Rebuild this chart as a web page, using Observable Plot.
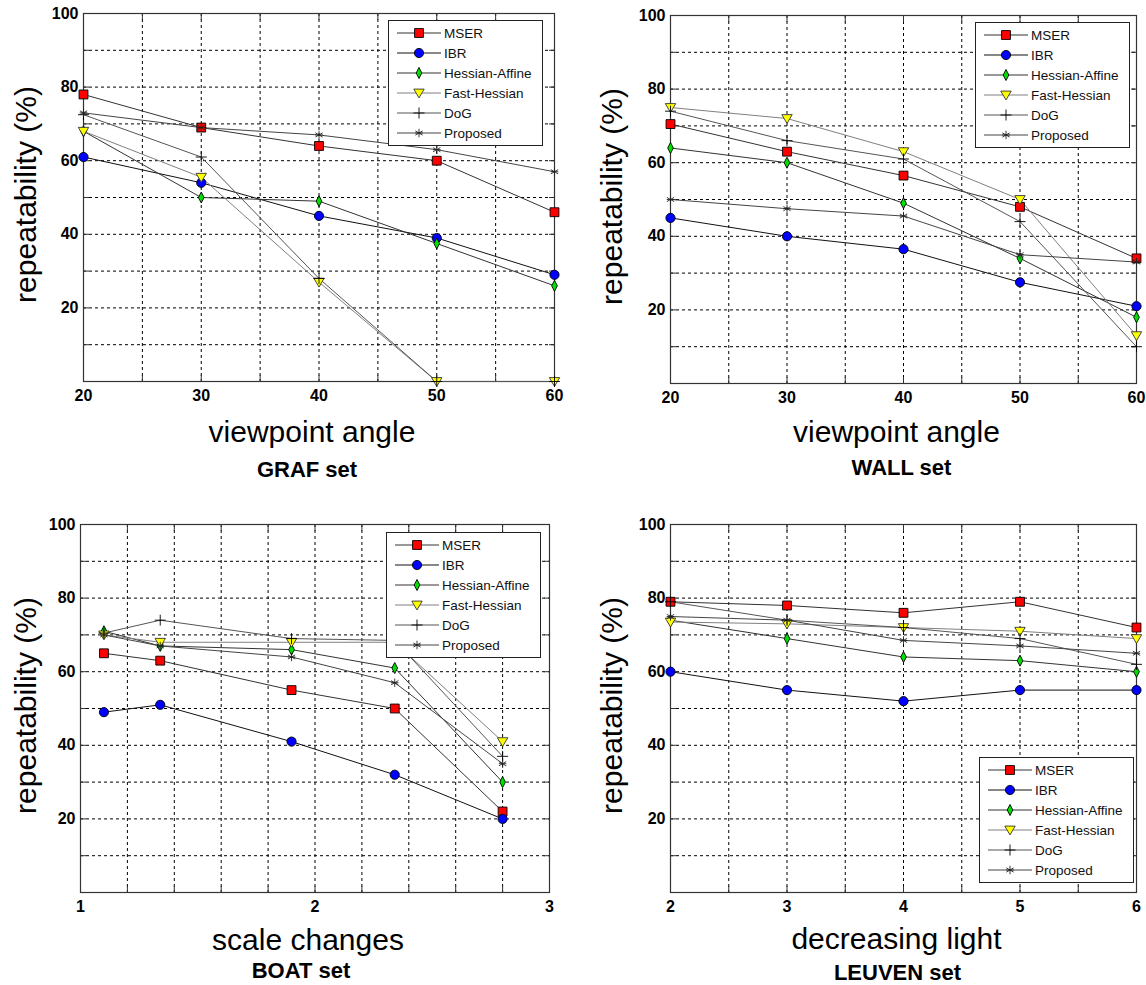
<!DOCTYPE html>
<html><head><meta charset="utf-8">
<script src="https://cdn.jsdelivr.net/npm/d3@7"></script>
<script src="https://cdn.jsdelivr.net/npm/@observablehq/plot@0.6"></script>
<style>
body{margin:0;background:#fff;}
#wrap{position:relative;width:1146px;height:985px;overflow:hidden;font-family:"Liberation Sans",Arial,sans-serif;background:#fff;}
#wrap > svg{position:absolute;}
</style></head><body><div id="wrap"></div>
<script>
// ---------- data ----------
const methods = ["MSER", "IBR", "Hessian-Affine", "Fast-Hessian", "DoG", "Proposed"];
const yLabel = "repeatability (%)";
const yTicks = [20, 40, 60, 80, 100];

const grafAngles = [20, 30, 40, 50, 60];
const grafValues = [
  [78, 69, 64, 60, 46],
  [61, 54, 45, 39, 29],
  [68, 50, 49, 37.5, 26],
  [68, 55.5, 27, 0, 0],
  [72.5, 61, 28, 0, 0],
  [73, 69, 67, 63, 57]
];
const wallAngles = [20, 30, 40, 50, 60];
const wallValues = [
  [70.5, 63, 56.5, 48, 34],
  [45, 40, 36.5, 27.5, 21],
  [64, 60, 49, 34, 18],
  [75, 72, 63, 50, 13],
  [74, 66, 61, 44, 10],
  [50, 47.5, 45.5, 35, 33]
];
const boatScales = [1.1, 1.34, 1.9, 2.34, 2.8];
const boatValues = [
  [65, 63, 55, 50, 22],
  [49, 51, 41, 32, 20],
  [71, 67, 66, 61, 30],
  [70, 68, 68, 68, 41],
  [70.5, 74, 69, 68.5, 37],
  [70, 67, 64, 57, 35]
];
const leuvenSteps = [2, 3, 4, 5, 6];
const leuvenValues = [
  [79, 78, 76, 79, 72],
  [60, 55, 52, 55, 55],
  [74, 69, 64, 63, 60],
  [73.5, 73, 72, 71, 69],
  [79, 74, 72, 69, 62],
  [75, 74, 68.5, 67, 65]
];
const grafTicks = [20, 30, 40, 50, 60];
const boatTicks = [1, 2, 3];
const leuvenTicks = [2, 3, 4, 5, 6];

// ---------- symbols & styles ----------
const rad = s => Math.sqrt(s / Math.PI);
const symDiamond = {draw(c, s) { const r = rad(s); c.moveTo(0, -r * 1.2); c.lineTo(r * 0.62, 0); c.lineTo(0, r * 1.2); c.lineTo(-r * 0.62, 0); c.closePath(); }};
const symTriDown = {draw(c, s) { const r = rad(s); c.moveTo(-r, -r * 0.75); c.lineTo(r, -r * 0.75); c.lineTo(0, r * 0.95); c.closePath(); }};
const symPlus = {draw(c, s) { const r = rad(s); c.moveTo(-r, 0); c.lineTo(r, 0); c.moveTo(0, -r); c.lineTo(0, r); }};
const symStar = {draw(c, s) { const r = rad(s); for (let k = 0; k < 3; k++) { const a = k * Math.PI / 3 + Math.PI / 2; c.moveTo(-r * Math.cos(a), -r * Math.sin(a)); c.lineTo(r * Math.cos(a), r * Math.sin(a)); } c.moveTo(-r * 0.9, 0); c.lineTo(r * 0.9, 0); }};
const styles = [
  {symbol: d3.symbolSquare, r: 5.0, fill: "#ff0000", stroke: "#000", line: "#333"},
  {symbol: d3.symbolCircle, r: 4.6, fill: "#0000ff", stroke: "#000", line: "#111"},
  {symbol: symDiamond, r: 4.6, fill: "#00e000", stroke: "#000", line: "#333"},
  {symbol: symTriDown, r: 5.2, fill: "#ffff00", stroke: "#333", line: "#808080"},
  {symbol: symPlus, r: 5.5, fill: "none", stroke: "#000", line: "#555"},
  {symbol: symStar, r: 4.2, fill: "none", stroke: "#222", line: "#444"}
];
const FONT = '"Liberation Sans", Arial, sans-serif';
const wrap = document.getElementById("wrap");

function panel(o) {
  const data = methods.map((m, i) => o.xs.map((x, j) => ({method: m, x, y: o.values[i][j]})));
  const dash = {stroke: "#000", strokeOpacity: 1, strokeWidth: 1, strokeDasharray: "3,3"};
  const minor = o.xGrid.concat(o.xDomain);
  const yMinor = d3.range(10, 100, 10);
  const marks = [
    Plot.gridY(yMinor, dash),
    Plot.gridX(o.xGrid, dash),
    Plot.axisX(minor, {anchor: "bottom", tickSize: -6, fill: "none", stroke: "#333"}),
    Plot.axisX(minor, {anchor: "top", tickSize: -6, fill: "none", stroke: "#333"}),
    Plot.axisY(yMinor, {anchor: "left", tickSize: -6, fill: "none", stroke: "#333"}),
    Plot.axisY(yMinor, {anchor: "right", tickSize: -6, fill: "none", stroke: "#333"}),
    Plot.frame({stroke: "#333", strokeWidth: 1.2}),
    Plot.axisX(o.xTicks, {anchor: "bottom", tickSize: 0, tickPadding: 8, fontSize: 16, fontWeight: "bold", label: null, tickFormat: d => String(d)}),
    Plot.axisY(yTicks, {anchor: "left", tickSize: 0, tickPadding: 5, fontSize: 16, fontWeight: "bold", label: null}),
    ...data.map((d, i) => Plot.line(d, {x: "x", y: "y", stroke: styles[i].line, strokeWidth: 1})),
    ...data.map((d, i) => Plot.dot(d, {x: "x", y: "y", symbol: styles[i].symbol, r: styles[i].r, fill: styles[i].fill, stroke: styles[i].stroke, strokeWidth: 0.9})),
    Plot.text([o.xlabel], {frameAnchor: "bottom", textAnchor: "middle", dy: o.xlDy, dx: -7, fontSize: 30, lineAnchor: "middle"}),
    Plot.text([o.setName], {frameAnchor: "bottom", textAnchor: "middle", dy: o.setDy, dx: o.setDx, fontSize: 22, fontWeight: "bold", lineAnchor: "middle"}),
    Plot.text([yLabel], {frameAnchor: "left", textAnchor: "middle", dx: o.ylDx, dy: -3, rotate: -90, fontSize: 30, lineAnchor: "middle"})
  ];
  const svg = Plot.plot({
    width: o.w, height: o.h,
    marginLeft: o.ml, marginRight: o.mr, marginTop: o.mt, marginBottom: o.mb,
    x: {domain: o.xDomain},
    y: {domain: [0, 100]},
    style: {fontFamily: FONT, background: "transparent", overflow: "visible", color: "#000"},
    marks
  });
  svg.style.left = o.left + "px";
  svg.style.top = o.top + "px";
  wrap.appendChild(svg);
  legend(o.legLeft, o.legTop);
}

function legend(l, t) {
  const W = 155, H = 126;
  const svg = d3.select(wrap).append("svg").attr("width", W).attr("height", H)
    .style("position", "absolute").style("left", l + "px").style("top", t + "px");
  svg.append("rect").attr("x", 0.5).attr("y", 0.5).attr("width", W - 1).attr("height", H - 1)
    .attr("fill", "#fff").attr("stroke", "#222");
  methods.forEach((m, i) => {
    const y = 13 + 20 * i, s = styles[i];
    svg.append("line").attr("x1", 9).attr("x2", 53).attr("y1", y).attr("y2", y).attr("stroke", s.line);
    svg.append("path").attr("transform", `translate(31,${y})`)
      .attr("d", d3.symbol().type(s.symbol).size(Math.PI * s.r * s.r)())
      .attr("fill", s.fill).attr("stroke", s.stroke).attr("stroke-width", 0.9);
    svg.append("text").attr("x", 56).attr("y", y).attr("dy", "0.35em")
      .attr("font-family", FONT).attr("font-size", 13.5).attr("fill", "#111").text(m);
  });
}

const step = (a, b, s) => d3.range(0, Math.round((b - a) / s) + 1).map(k => +(a + k * s).toFixed(4)).filter(v => v > a && v < b);

panel({values: grafValues, xs: grafAngles, xDomain: [20, 60], xTicks: grafTicks, xGrid: step(20, 60, 5),
  xlabel: "viewpoint angle", setName: "GRAF set", left: 0, top: 0, w: 573, h: 490,
  ml: 83, mr: 19, mt: 13, mb: 109, xlDy: 51, setDy: 88, setDx: -12, ylDx: -57, legLeft: 388, legTop: 20});
panel({values: wallValues, xs: wallAngles, xDomain: [20, 60], xTicks: grafTicks, xGrid: step(20, 60, 5),
  xlabel: "viewpoint angle", setName: "WALL set", left: 573, top: 0, w: 573, h: 490,
  ml: 97, mr: 10, mt: 15, mb: 107, xlDy: 49, setDy: 84, setDx: -2, ylDx: -58, legLeft: 975, legTop: 22});
panel({values: boatValues, xs: boatScales, xDomain: [1, 3], xTicks: boatTicks, xGrid: step(1, 3, 0.2),
  xlabel: "scale changes", setName: "BOAT set", left: 0, top: 490, w: 573, h: 495,
  ml: 80, mr: 24, mt: 34, mb: 93, xlDy: 48, setDy: 78, setDx: -14, ylDx: -54, legLeft: 386, legTop: 532});
panel({values: leuvenValues, xs: leuvenSteps, xDomain: [2, 6], xTicks: leuvenTicks, xGrid: step(2, 6, 0.5),
  xlabel: "decreasing light", setName: "LEUVEN set", left: 573, top: 490, w: 573, h: 495,
  ml: 97, mr: 10, mt: 34, mb: 93, xlDy: 47, setDy: 80, setDx: -6, ylDx: -58, legLeft: 979, legTop: 757});
</script></body></html>
